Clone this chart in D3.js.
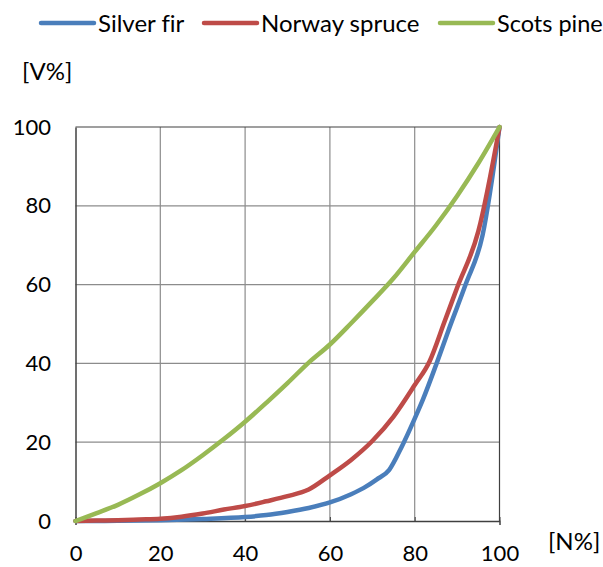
<!DOCTYPE html>
<html><head><meta charset="utf-8">
<script src="https://cdn.jsdelivr.net/npm/d3@7/dist/d3.min.js"></script>
<style>body{margin:0;background:#fff;} svg{display:block;} text{font-variant-ligatures:none;}</style>
</head><body>
<svg id="c" width="603" height="567"></svg>
<script>
const seriesNames = ["Silver fir", "Norway spruce", "Scots pine"];
const seriesColors = ["#4a7ebb", "#be4b48", "#98b954"];
const silverFir = [[0,0],[10,0.05],[20,0.2],[30,0.5],[40,1],[45,1.5],[50,2.3],[55,3.3],[60,4.7],[65,6.8],[68,8.4],[71,10.5],[74,13],[77,19],[80,26],[82,31],[85,39.5],[88,48.5],[92,60],[96,72.5],[100,100]];
const norwaySpruce = [[0,0],[5,0.1],[10,0.2],[15,0.4],[20,0.6],[25,1.1],[30,1.9],[35,2.9],[40,3.8],[45,5],[50,6.3],[55,8],[60,11.6],[65,15.5],[70,20.3],[75,26.5],[80,34.5],[83.5,40.5],[87,50.5],[90,59.2],[95,73.5],[100,100]];
const scotsPine = [[0,0],[5,2],[10,4.1],[15,6.7],[20,9.6],[25,12.9],[30,16.7],[35,20.8],[40,25.2],[45,30],[50,35],[55,40.2],[60,44.8],[65,50.2],[70,55.8],[75,61.6],[80,68.3],[85,75],[90,82.5],[95,90.8],[100,100]];
const xTicks = [0,20,40,60,80,100];
const yTicks = [0,20,40,60,80,100];

const svg = d3.select("#c");
const font = "Lato, 'Open Sans', sans-serif";
const L = 75.5, R = 499.5, T = 127, B = 521;
const x = d3.scaleLinear().domain([0,100]).range([L,R]);
const y = d3.scaleLinear().domain([0,100]).range([B,T]);

// gridlines
const g = svg.append("g");
g.selectAll(".vx").data(xTicks.slice(1,-1)).join("line")
  .attr("x1",d=>x(d)).attr("x2",d=>x(d)).attr("y1",T).attr("y2",B)
  .attr("stroke","#8c8c8c").attr("stroke-width",1.2);
g.selectAll(".hy").data(yTicks.slice(1,-1)).join("line")
  .attr("y1",d=>y(d)).attr("y2",d=>y(d)).attr("x1",L).attr("x2",R)
  .attr("stroke","#8c8c8c").attr("stroke-width",1.2);
// border
g.append("line").attr("x1",L).attr("x2",R).attr("y1",T).attr("y2",T).attr("stroke","#404040").attr("stroke-width",1.2);
g.append("line").attr("x1",R).attr("x2",R).attr("y1",T).attr("y2",B).attr("stroke","#404040").attr("stroke-width",1.2);

// axes
const xAxis = d3.axisBottom(x).tickValues(xTicks).tickSize(4).tickPadding(20);
const yAxis = d3.axisLeft(y).tickValues(yTicks).tickSize(0).tickPadding(24.5);
const ax = svg.append("g").attr("transform",`translate(0,${B})`).call(xAxis);
const ay = svg.append("g").attr("transform",`translate(${L},0)`).call(yAxis);
[ax,ay].forEach(a=>{
  a.select(".domain").attr("stroke","#404040").attr("stroke-width",1.5);
  a.selectAll(".tick line").attr("stroke","#404040");
  a.selectAll("text").attr("font-family",font).attr("font-size",22).attr("fill","#000");
});
ax.selectAll(".tick line").attr("y2",-4);

// lines
const line = d3.line().x(d=>x(d[0])).y(d=>y(d[1])).curve(d3.curveMonotoneX);
const data = [silverFir, norwaySpruce, scotsPine];
svg.append("g").selectAll("path").data(data).join("path")
  .attr("d",line).attr("fill","none")
  .attr("stroke",(d,i)=>seriesColors[i]).attr("stroke-width",4.5)
  .attr("stroke-linejoin","round").attr("stroke-linecap","round");

// axis titles
svg.append("text").attr("x",22).attr("y",80).text("[V%]")
  .attr("font-family",font).attr("font-size",24);
svg.append("text").attr("x",548).attr("y",550).text("[N%]")
  .attr("font-family",font).attr("font-size",24);

// legend
const legX = [41, 204, 440];
const leg = svg.append("g");
seriesNames.forEach((n,i)=>{
  leg.append("line").attr("x1",legX[i]).attr("x2",legX[i]+53).attr("y1",23).attr("y2",23)
    .attr("stroke",seriesColors[i]).attr("stroke-width",4.5).attr("stroke-linecap","round");
  leg.append("text").attr("x",legX[i]+57).attr("y",32).text(n)
    .attr("font-family",font).attr("font-size",i===2?23.5:24);
});
</script>
</body></html>
